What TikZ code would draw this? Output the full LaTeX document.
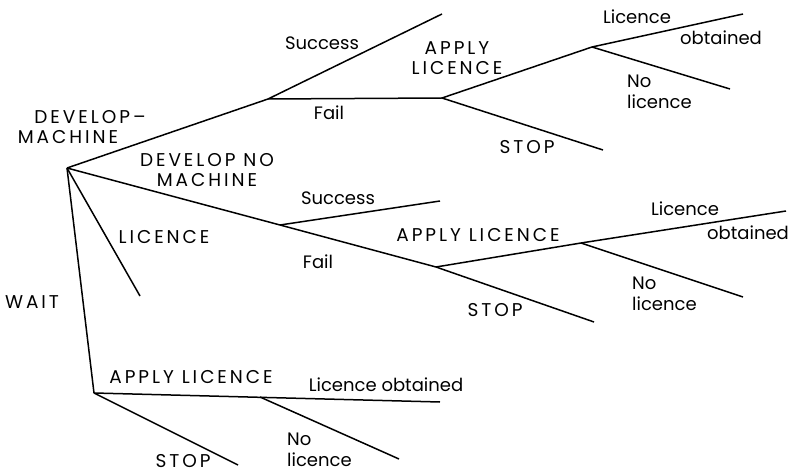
\documentclass[tikz,border=0pt]{standalone}
\usepackage{fontspec}
\setmainfont{Poppins}
\newfontfamily\capsfont[LetterSpace=16]{Poppins}
\begin{document}
\begin{tikzpicture}[x=1pt,y=-1pt,
  branch/.style={line width=1.5pt},
  lbl/.style={font=\fontsize{18}{21}\selectfont, inner sep=0pt, align=center},
  capslbl/.style={font=\capsfont\fontsize{18.5}{20}\selectfont, inner sep=0pt, align=center},
  lbll/.style={font=\fontsize{18}{21}\selectfont, inner sep=0pt, align=left, anchor=west}]
\useasboundingbox (0,0) rectangle (793,473);
% coordinates
\coordinate (r) at (67,168);
\coordinate (dm) at (268,99);
\coordinate (ds) at (442,14);
\coordinate (al1) at (442,98);
\coordinate (lic1) at (592,47);
\coordinate (lo1) at (743,14);
\coordinate (nl1) at (730,89);
\coordinate (st1) at (603,150);
\coordinate (dn) at (280,225);
\coordinate (ds2) at (440,201);
\coordinate (al2) at (436,267);
\coordinate (lic2) at (581,243);
\coordinate (lo2) at (786,211);
\coordinate (nl2) at (743,297);
\coordinate (st2) at (594,322);
\coordinate (lc) at (140,296);
\coordinate (w) at (94,393);
\coordinate (lo3) at (440,402);
\coordinate (nb) at (260,397);
\coordinate (nl3) at (399,459);
\coordinate (st3) at (238,465);
% branches
\draw[branch] (r) -- (dm);
\draw[branch] (dm) -- (ds);
\draw[branch] (dm) -- (al1);
\draw[branch] (al1) -- (lic1);
\draw[branch] (lic1) -- (lo1);
\draw[branch] (lic1) -- (nl1);
\draw[branch] (al1) -- (st1);
\draw[branch] (r) -- (dn);
\draw[branch] (dn) -- (ds2);
\draw[branch] (dn) -- (al2);
\draw[branch] (al2) -- (lic2);
\draw[branch] (lic2) -- (lo2);
\draw[branch] (lic2) -- (nl2);
\draw[branch] (al2) -- (st2);
\draw[branch] (r) -- (lc);
\draw[branch] (r) -- (w);
\draw[branch] (w) -- (lo3);
\draw[branch] (nb) -- (nl3);
\draw[branch] (w) -- (st3);
% labels
\node[capslbl] (t1) at (90,117) {DEVELOP\textendash};
\node[capslbl] (t2) at (68,137) {MACHINE};
\node[lbl] (t3) at (322,43) {Success};
\node[lbl] (t4) at (329,113) {Fail};
\node[capslbl] (t5) at (457,58) {APPLY\\LICENCE};
\node[lbl] (t6) at (637,17) {Licence};
\node[lbl] (t7) at (721,38) {obtained};
\node[lbll] (t8) at (627,92) {No\\licence};
\node[capslbl] (t9) at (527,147) {STOP};
\node[capslbl] (t10) at (207,170) {DEVELOP NO\\MACHINE};
\node[lbl] (t11) at (338,198) {Success};
\node[capslbl] (t12) at (164,237) {LICENCE};
\node[lbl] (t13) at (318,262) {Fail};
\node[capslbl] (t14) at (478,235) {APPLY LICENCE};
\node[lbl] (t15) at (685,209) {Licence};
\node[lbl] (t16) at (748,233) {obtained};
\node[lbll] (t17) at (632,294) {No\\licence};
\node[capslbl] (t18) at (495,310) {STOP};
\node[capslbl] (t19) at (32,302) {WAIT};
\node[capslbl] (t20) at (191,377) {APPLY LICENCE};
\node[lbl] (t21) at (386,385) {Licence obtained};
\node[lbll] (t22) at (287,450) {No\\licence};
\node[capslbl] (t23) at (183,461) {STOP};
\end{tikzpicture}
\end{document}
